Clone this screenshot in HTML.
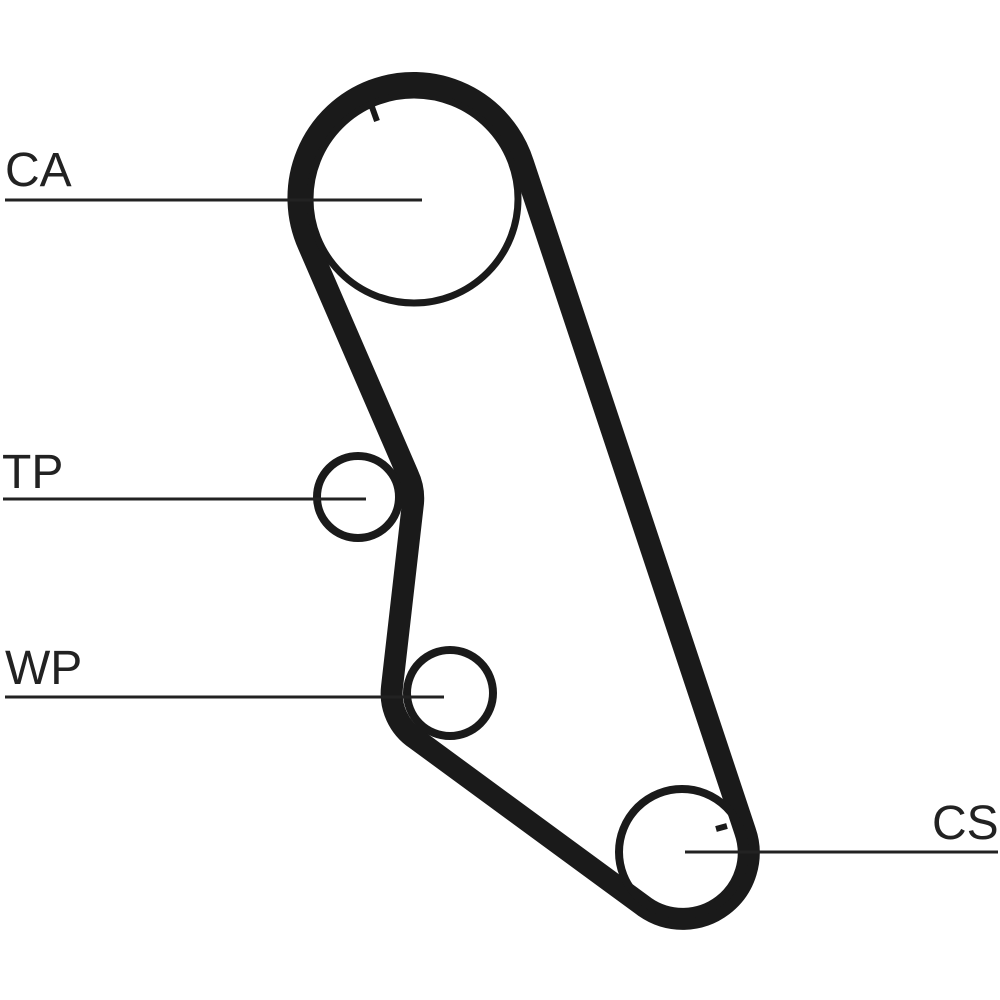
<!DOCTYPE html>
<html><head><meta charset="utf-8"><style>html,body{margin:0;padding:0;background:#fff;}svg{display:block}</style></head>
<body>
<svg width="1000" height="1000" viewBox="0 0 1000 1000" xmlns="http://www.w3.org/2000/svg">
<g fill="none" stroke="#1a1a1a">
<path d="M308.5 245 A115 115 0 1 1 523 163 L745 831 A66 66 0 0 1 645 907 L416 739 A55 55 0 0 1 392 687 L413 503 A55 55 0 0 0 408 475 Z" stroke-width="22" stroke-linejoin="round"/>
<circle cx="414" cy="199" r="104" stroke-width="7"/>
<circle cx="358" cy="497" r="41" stroke-width="8"/>
<circle cx="450" cy="693" r="43" stroke-width="8"/>
<circle cx="682" cy="852" r="63" stroke-width="8"/>
<line x1="372" y1="107" x2="377" y2="121" stroke-width="6"/>
<line x1="716" y1="829" x2="727" y2="826" stroke-width="6"/>
</g>
<g stroke="#222" stroke-width="3">
<line x1="5" y1="200" x2="422" y2="200"/>
<line x1="3" y1="499" x2="366" y2="499"/>
<line x1="5" y1="697" x2="444" y2="697"/>
<line x1="685" y1="852" x2="998" y2="852"/>
</g>
<g font-family="Liberation Sans, sans-serif" font-size="48" fill="#222">
<text x="5" y="186">CA</text>
<text x="2" y="488">TP</text>
<text x="5" y="684">WP</text>
<text x="932" y="839">CS</text>
</g>
</svg>
</body></html>
